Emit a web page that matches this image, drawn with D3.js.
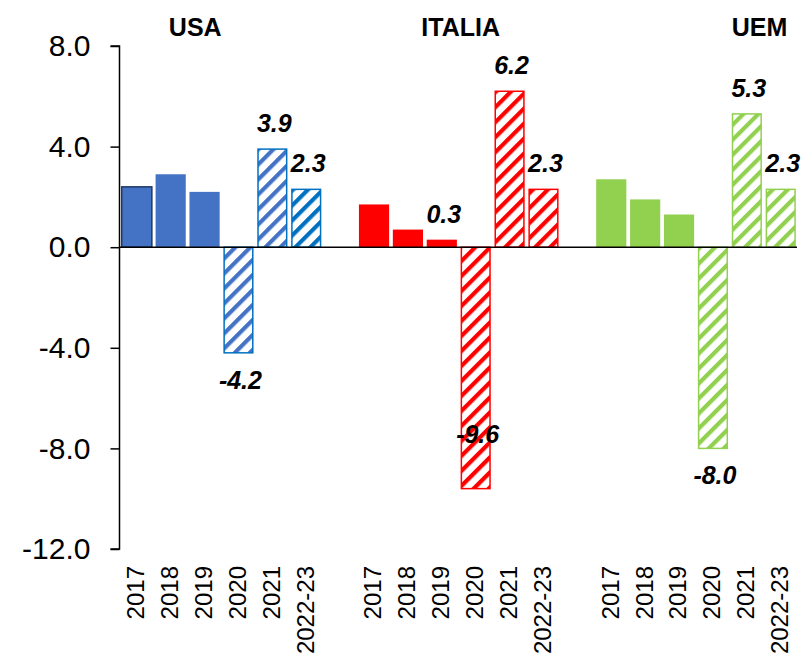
<!DOCTYPE html>
<html>
<head>
<meta charset="utf-8">
<script src="https://cdn.jsdelivr.net/npm/d3@7"></script>
<style>
  body { margin: 0; background: #fff; }
  svg { display: block; font-family: Arial, "Liberation Sans", sans-serif; }
</style>
</head>
<body>
<div id="chart"></div>
<script>
// dati
const groups = ['USA', 'ITALIA', 'UEM']
const years = ['2017', '2018', '2019', '2020', '2021', '2022-23']
const usaValues = [2.4, 2.9, 2.2, -4.2, 3.9, 2.3]
const italiaValues = [1.7, 0.7, 0.3, -9.6, 6.2, 2.3]
const uemValues = [2.7, 1.9, 1.3, -8.0, 5.3, 2.3]
const yTicks = [8, 4, 0, -4, -8, -12]
// anni con etichetta del valore (per gruppo)
const labelledYears = {
  USA: ['2020', '2021', '2022-23'],
  ITALIA: ['2019', '2020', '2021', '2022-23'],
  UEM: ['2020', '2021', '2022-23']
}
const hatchedYears = ['2020', '2021', '2022-23']

const valuesByGroup = { USA: usaValues, ITALIA: italiaValues, UEM: uemValues }

const w = 802, h = 659
const svg = d3.select('#chart').append('svg').attr('width', w).attr('height', h)
// formato con trattino normale al posto del segno meno unicode
const fmt = d3.formatLocale({ decimal: '.', thousands: ',', grouping: [3], currency: ['', ''], minus: '-' }).format('.1f')

// colori
const fillColor = { USA: '#4472C4', ITALIA: '#FF0000', UEM: '#92D050' }
const borderColor = { USA: '#0070C0', ITALIA: '#FF0000', UEM: '#92D050' }
const stripeColor = {
  USA: { '2020': '#4472C4', '2021': '#4472C4', '2022-23': '#0070C0' },
  ITALIA: { '2020': '#FF0000', '2021': '#FF0000', '2022-23': '#FF0000' },
  UEM: { '2020': '#92D050', '2021': '#92D050', '2022-23': '#92D050' }
}

// dataset piatto con separatori tra i gruppi
const data = []
const domain = []
groups.forEach((g, gi) => {
  if (gi > 0) domain.push('gap' + gi)
  years.forEach((y, i) => {
    const key = g + '|' + y
    domain.push(key)
    data.push({ key, group: g, year: y, value: valuesByGroup[g][i] })
  })
})

const xScale = d3.scaleBand().domain(domain).range([120, 797.5])
  .paddingInner(0.11).paddingOuter(0.05)
const yScale = d3.scaleLinear().domain([-12, 8]).range([549, 46])

// pattern tratteggiati
const defs = svg.append('defs')
data.filter(d => hatchedYears.includes(d.year)).forEach(d => {
  const id = 'hatch-' + d.group + '-' + d.year
  const p = defs.append('pattern').attr('id', id)
    .attr('patternUnits', 'userSpaceOnUse')
    .attr('width', 10.6).attr('height', 10.6)
    .attr('patternTransform', 'rotate(45)')
  p.append('rect').attr('width', 10.6).attr('height', 10.6).attr('fill', '#fff')
  p.append('rect').attr('x', 0).attr('width', 4.2).attr('height', 10.6)
    .attr('fill', stripeColor[d.group][d.year])
})

// asse y
const yAxis = d3.axisLeft(yScale).tickValues(yTicks)
  .tickFormat(fmt).tickSize(9).tickPadding(20)
const yAxisDom = svg.append('g').attr('transform', 'translate(119.5,0)').call(yAxis)
yAxisDom.select('.domain').attr('d', `M-9,${yScale(8)}H0V${yScale(-12)}H-9`)
  .attr('stroke', '#000').attr('stroke-width', 1.5)
yAxisDom.selectAll('line').attr('stroke', '#000').attr('stroke-width', 1.5)
yAxisDom.selectAll('text').style('font-size', '30px').attr('fill', '#000')
  .attr('font-family', 'Arial, "Liberation Sans", sans-serif')

// barre
const bars = svg.append('g')
bars.selectAll('rect').data(data).enter().append('rect')
  .attr('x', d => xScale(d.key) + (hatchedYears.includes(d.year) ? 0.75 : 0))
  .attr('width', d => xScale.bandwidth() - (hatchedYears.includes(d.year) ? 1.5 : 0))
  .attr('y', d => yScale(Math.max(0, d.value)))
  .attr('height', d => Math.abs(yScale(d.value) - yScale(0)))
  .attr('fill', d => hatchedYears.includes(d.year)
    ? `url(#hatch-${d.group}-${d.year})` : fillColor[d.group])
  .attr('stroke', d => {
    if (hatchedYears.includes(d.year)) return borderColor[d.group]
    if (d.group === 'USA' && d.year === '2017') return '#1F3864'
    return 'none'
  })
  .attr('stroke-width', 1.5)

// linea dello zero
svg.append('line').attr('x1', 119.5).attr('x2', 797)
  .attr('y1', yScale(0)).attr('y2', yScale(0))
  .attr('stroke', '#000').attr('stroke-width', 1.5)

// etichette asse x (ruotate)
svg.append('g').selectAll('text').data(data).enter().append('text')
  .text(d => d.year)
  .attr('transform', d => `translate(${xScale(d.key) + xScale.bandwidth() / 2 - 1}, 566) rotate(-90)`)
  .attr('text-anchor', 'end').attr('dy', '0.35em')
  .style('font-size', '24px').attr('fill', '#000')

// etichette dei valori
const labelDy = { 'ITALIA|2020': -46 }
svg.append('g').selectAll('text')
  .data(data.filter(d => labelledYears[d.group].includes(d.year)))
  .enter().append('text')
  .text(d => fmt(d.value))
  .attr('x', d => xScale(d.key) + xScale.bandwidth() / 2 + 2)
  .attr('y', d => {
    if (labelDy[d.key] !== undefined) return yScale(d.value) + labelDy[d.key]
    return d.value >= 0 ? yScale(d.value) - 17 : yScale(d.value) + 36
  })
  .attr('text-anchor', 'middle')
  .style('font-size', '25px').style('font-weight', 'bold').style('font-style', 'italic')
  .attr('fill', '#000')

// titoli dei gruppi
const titleAt = { USA: ['2019', 0.17], ITALIA: ['2020', 0], UEM: ['2021', 0.82] }
svg.append('g').selectAll('text').data(groups).enter().append('text')
  .text(d => d)
  .attr('x', d => xScale(d + '|' + titleAt[d][0]) + xScale.step() * titleAt[d][1])
  .attr('y', 36)
  .attr('text-anchor', 'middle')
  .style('font-size', '25px').style('font-weight', 'bold')
  .attr('fill', '#000')
</script>
</body>
</html>
